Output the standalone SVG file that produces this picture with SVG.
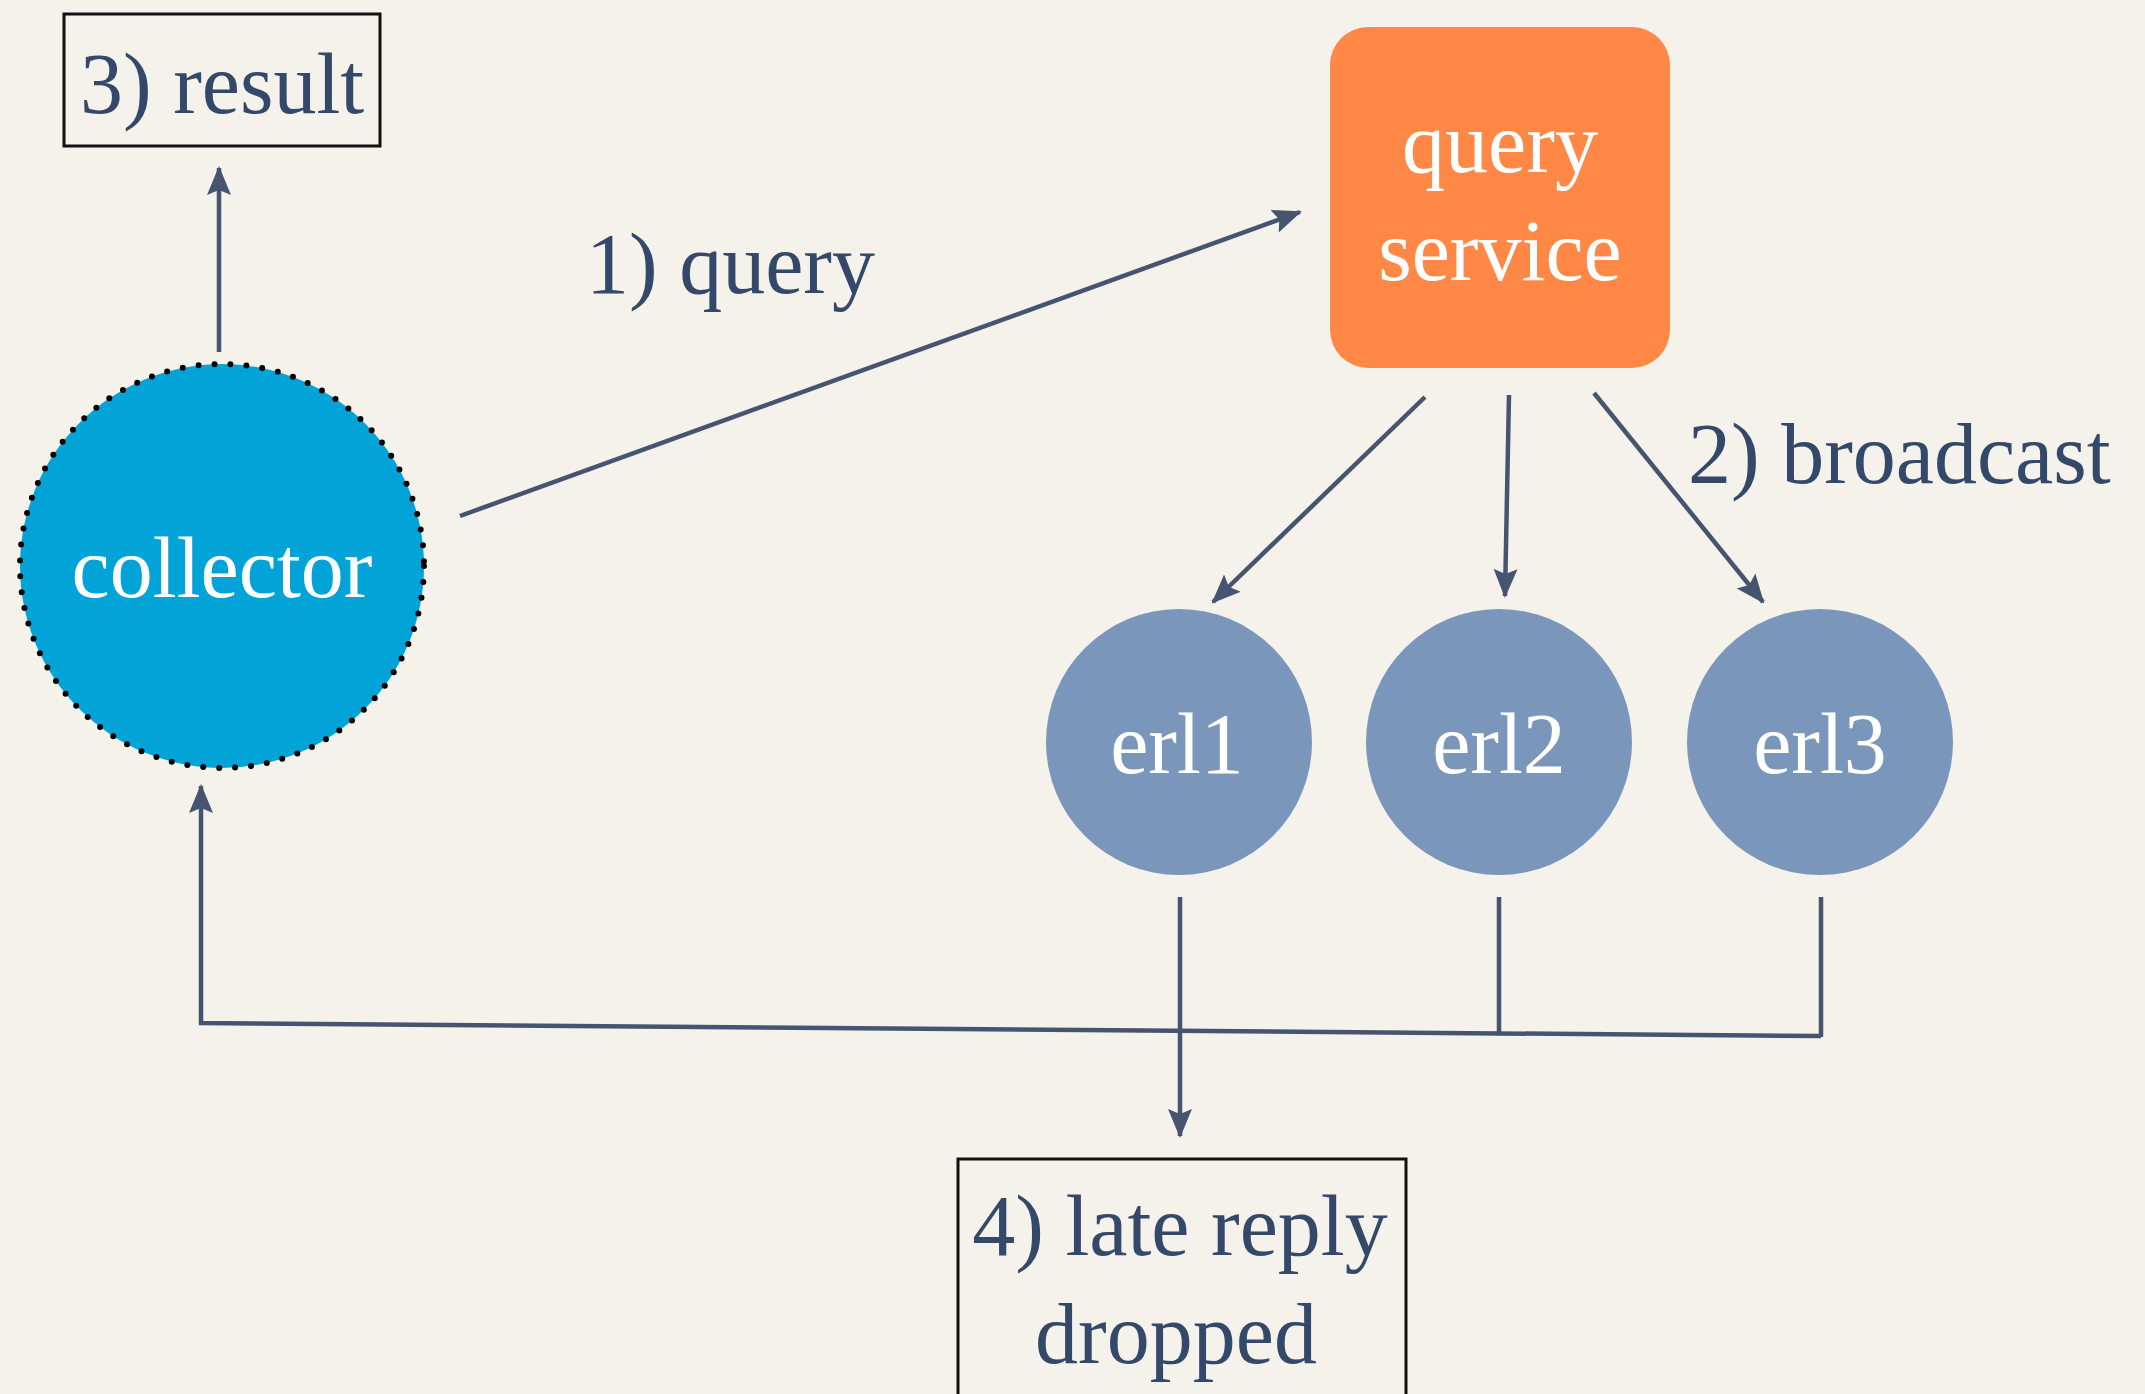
<svg xmlns="http://www.w3.org/2000/svg" width="2145" height="1394" viewBox="0 0 2145 1394">
  <style>
    .label { font-family: "Liberation Serif", "Times New Roman", serif; font-size: 86px; fill: #34496A; }
    .inner { font-family: "Liberation Serif", "Times New Roman", serif; font-size: 86px; fill: #FFFFFF; text-anchor: middle; }
    .wire { stroke: #475470; stroke-width: 4.5; fill: none; }
    .box { fill: none; stroke: #111111; stroke-width: 3; }
  </style>
  <defs>
    <marker id="head" markerUnits="userSpaceOnUse" markerWidth="32" markerHeight="28" viewBox="0 -14 32 28" refX="27" refY="0" orient="auto">
      <path d="M0,-12 L29,0 L0,12 L5,0 Z" fill="#475470"/>
    </marker>
  </defs>

  <!-- paper background -->
  <rect width="2145" height="1394" fill="#F5F2EB"/>

  <!-- connectors -->
  <g id="connectors">
    <!-- 1) query -->
    <line class="wire" x1="460" y1="516" x2="1300" y2="212" marker-end="url(#head)"/>
    <!-- result out of collector -->
    <line class="wire" x1="219" y1="352" x2="219" y2="168" marker-end="url(#head)"/>
    <!-- 2) broadcast -->
    <line class="wire" x1="1425" y1="397" x2="1213" y2="602" marker-end="url(#head)"/>
    <line class="wire" x1="1509" y1="395" x2="1505" y2="596" marker-end="url(#head)"/>
    <line class="wire" x1="1594" y1="393" x2="1763" y2="602" marker-end="url(#head)"/>
    <!-- replies -->
    <line class="wire" x1="1499" y1="897" x2="1499" y2="1033"/>
    <line class="wire" x1="1821" y1="897" x2="1821" y2="1037"/>
    <polyline class="wire" stroke-width="5.5" points="1821,1036 201,1023 201,786" marker-end="url(#head)"/>
    <line class="wire" x1="1180" y1="897" x2="1180" y2="1136" marker-end="url(#head)"/>
  </g>

  <!-- labels -->
  <text class="label" x="586" y="293">1) query</text>
  <text class="label" x="1688" y="483">2) broadcast</text>

  <g id="result">
    <rect class="box" x="64" y="14" width="316" height="132"/>
    <text class="label" x="80" y="113">3) result</text>
  </g>

  <g id="collector">
    <circle cx="222" cy="566" r="202" fill="#02A4D8"/>
    <circle cx="222" cy="566" r="202" fill="none" stroke="#000000" stroke-width="6" stroke-linecap="round" stroke-dasharray="0 16"/>
    <text class="inner" x="222" y="597">collector</text>
  </g>

  <g id="query-service">
    <rect x="1330" y="27" width="340" height="341" rx="38" ry="38" fill="#FF8847"/>
    <text class="inner" x="1500" y="172">query</text>
    <text class="inner" x="1500" y="280">service</text>
  </g>

  <g id="erl1">
    <circle cx="1179" cy="742" r="133" fill="#7A97BB"/>
    <text class="inner" x="1177" y="773">erl1</text>
  </g>
  <g id="erl2">
    <circle cx="1499" cy="742" r="133" fill="#7A97BB"/>
    <text class="inner" x="1499" y="773">erl2</text>
  </g>
  <g id="erl3">
    <circle cx="1820" cy="742" r="133" fill="#7A97BB"/>
    <text class="inner" x="1820" y="773">erl3</text>
  </g>

  <g id="late-reply">
    <rect class="box" x="958" y="1159" width="448" height="260"/>
    <text class="label" x="1180" y="1255" text-anchor="middle">4) late reply</text>
    <text class="label" x="1176" y="1363" text-anchor="middle">dropped</text>
  </g>
</svg>
